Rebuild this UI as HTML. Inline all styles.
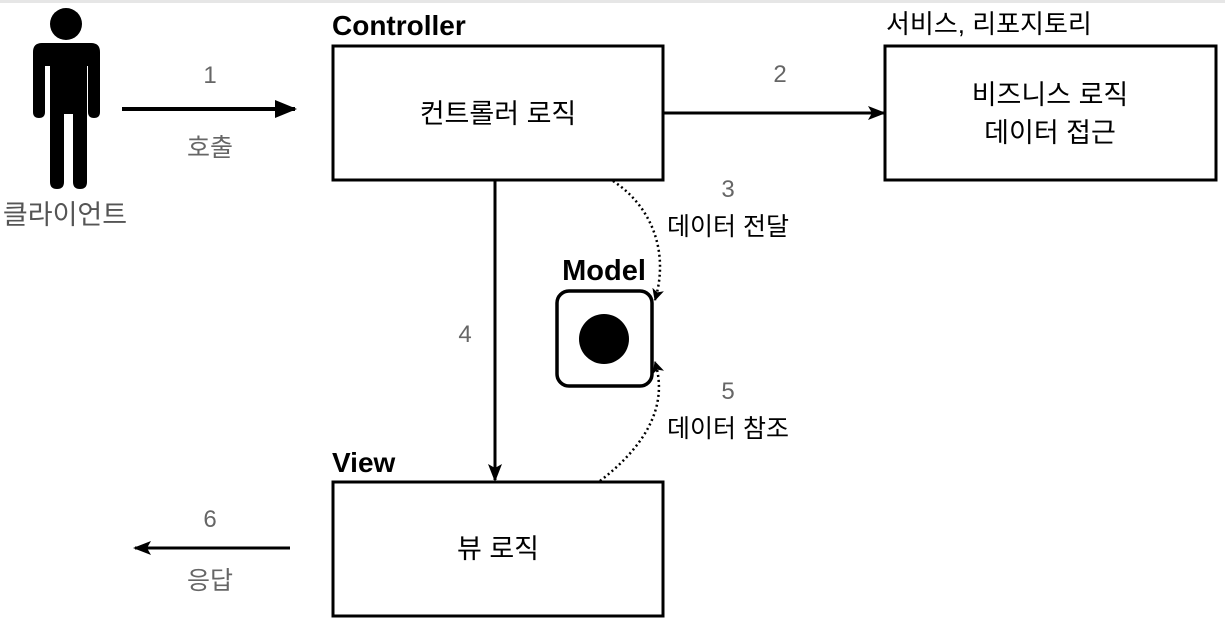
<!DOCTYPE html>
<html><head><meta charset="utf-8"><style>
html,body{margin:0;padding:0;background:#fff;}
svg{display:block;font-family:"Liberation Sans","Noto Sans CJK KR",sans-serif;}
</style></head><body>
<svg width="1225" height="622" viewBox="0 0 1225 622" xmlns="http://www.w3.org/2000/svg">
<defs>
<marker id="a" markerWidth="12" markerHeight="12" refX="11" refY="6" orient="auto" markerUnits="userSpaceOnUse"><path d="M0,0 L12,6 L0,12 L3,6 Z" fill="#000"/></marker>
<marker id="big" markerWidth="22" markerHeight="18" refX="20" refY="9" orient="auto" markerUnits="userSpaceOnUse"><path d="M0,0 L22,9 L0,18 Z" fill="#000"/></marker>
<marker id="mid" markerWidth="18" markerHeight="14" refX="16" refY="7" orient="auto" markerUnits="userSpaceOnUse"><path d="M0,0 L18,7 L0,14 L4,7 Z" fill="#000"/></marker>
</defs>
<rect x="0" y="0" width="1225" height="3" fill="#e6e6e6"/>
<!-- person -->
<circle cx="66" cy="24" r="16"/>
<path d="M42,43 H91 Q100,43 100,52 V112 Q100,118 94,118 Q88,118 88,112 V66 H87 V182 Q87,189 80,189 Q73,189 73,182 V114 H64 V182 Q64,189 57,189 Q50,189 50,182 V66 H45 V112 Q45,118 39,118 Q33,118 33,112 V52 Q33,43 42,43 Z" fill="#000"/>
<text x="65" y="224" font-size="27" fill="#555" text-anchor="middle">클라이언트</text>
<!-- arrow 1 -->
<line x1="122" y1="109" x2="295" y2="109" stroke="#000" stroke-width="4" marker-end="url(#big)"/>
<text x="210" y="83" font-size="24" fill="#666" text-anchor="middle">1</text>
<text x="210" y="156" font-size="25" fill="#666" text-anchor="middle">호출</text>
<!-- controller -->
<text x="332" y="35" font-size="28" font-weight="bold">Controller</text>
<rect x="333" y="46" width="330" height="134" fill="#fff" stroke="#000" stroke-width="3"/>
<text x="498" y="123" font-size="27" text-anchor="middle">컨트롤러 로직</text>
<!-- arrow 2 -->
<line x1="663" y1="113" x2="884" y2="113" stroke="#000" stroke-width="3" marker-end="url(#mid)"/>
<text x="780" y="82" font-size="24" fill="#666" text-anchor="middle">2</text>
<!-- service -->
<text x="886" y="33" font-size="26">서비스, 리포지토리</text>
<rect x="885" y="46" width="331" height="134" fill="#fff" stroke="#000" stroke-width="3"/>
<text x="1050" y="104" font-size="27" text-anchor="middle">비즈니스 로직</text>
<text x="1050" y="142" font-size="27" text-anchor="middle">데이터 접근</text>
<!-- arrow 4 -->
<line x1="495" y1="180" x2="495" y2="480" stroke="#000" stroke-width="3" marker-end="url(#mid)"/>
<text x="465" y="342" font-size="24" fill="#666" text-anchor="middle">4</text>
<!-- model -->
<text x="604" y="280" font-size="29" font-weight="bold" text-anchor="middle">Model</text>
<rect x="557" y="291" width="95" height="95" rx="12" fill="#fff" stroke="#000" stroke-width="3.5"/>
<circle cx="604" cy="339" r="25"/>
<!-- dotted 3 -->
<path d="M613,181 C650,205 670,250 655,300" fill="none" stroke="#000" stroke-width="2.5" stroke-dasharray="2,3" marker-end="url(#a)"/>
<text x="728" y="197" font-size="24" fill="#666" text-anchor="middle">3</text>
<text x="728" y="235" font-size="25" text-anchor="middle">데이터 전달</text>
<!-- dotted 5 -->
<path d="M600,481 C640,450 670,410 655,362" fill="none" stroke="#000" stroke-width="2.5" stroke-dasharray="2,3" marker-end="url(#a)"/>
<text x="728" y="399" font-size="24" fill="#666" text-anchor="middle">5</text>
<text x="728" y="437" font-size="25" text-anchor="middle">데이터 참조</text>
<!-- view -->
<text x="332" y="472" font-size="28" font-weight="bold">View</text>
<rect x="333" y="482" width="330" height="134" fill="#fff" stroke="#000" stroke-width="3"/>
<text x="498" y="558" font-size="27" text-anchor="middle">뷰 로직</text>
<!-- arrow 6 -->
<line x1="290" y1="548" x2="135" y2="548" stroke="#000" stroke-width="3" marker-end="url(#mid)"/>
<text x="210" y="527" font-size="24" fill="#666" text-anchor="middle">6</text>
<text x="210" y="589" font-size="25" fill="#666" text-anchor="middle">응답</text>
</svg>
</body></html>
